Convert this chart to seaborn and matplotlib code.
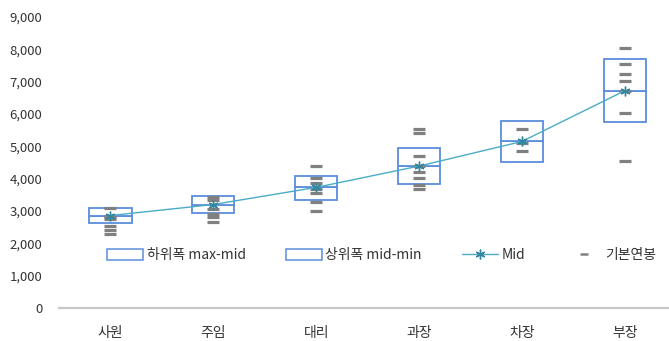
import matplotlib
matplotlib.use("Agg")
import matplotlib.pyplot as plt
from matplotlib.patches import Patch
from matplotlib.lines import Line2D
import seaborn as sns
import pandas as pd

# Grades, band limits and the midpoint of each pay band (unit: 10k KRW)
categories = ["사원", "주임", "대리", "과장", "차장", "부장"]
band_min = [2620, 2940, 3340, 3835, 4510, 5745]
band_mid = [2860, 3200, 3730, 4390, 5150, 6720]
band_max = [3080, 3460, 4090, 4940, 5790, 7710]

# Base salaries observed within each grade
salaries_사원 = [3080, 2860, 2800, 2740, 2540, 2420, 2290]
salaries_주임 = [3430, 3330, 3050, 2920, 2810, 2670]
salaries_대리 = [4380, 4010, 3880, 3680, 3560, 3290, 3010]
salaries_과장 = [5530, 5400, 4700, 4390, 4200, 4020, 3800, 3670]
salaries_차장 = [5530, 5110, 4850]
salaries_부장 = [8030, 7540, 7230, 7010, 6720, 6020, 4540]

y_ticks = [0, 1000, 2000, 3000, 4000, 5000, 6000, 7000, 8000, 9000]

sns.set_theme(style="white")
plt.rcParams["font.family"] = ["Noto Sans CJK KR", "DejaVu Sans"]

text_color = "#333333"
box_color = "#5B8EDB"
line_color = "#4BACC6"
marker_color = "#31859C"
dash_color = "#808080"

salary_df = pd.DataFrame(
    [(g, v) for g, vals in zip(categories, [salaries_사원, salaries_주임, salaries_대리,
                                           salaries_과장, salaries_차장, salaries_부장])
     for v in vals],
    columns=["grade", "salary"],
)
band_df = pd.DataFrame({"grade": categories, "mid": band_mid})

fig = plt.figure(figsize=(6.69, 3.41), dpi=100)
ax = fig.add_axes([59 / 669, 33 / 341, 610 / 669, 291 / 341])

# Pay band boxes: lower part min→mid, upper part mid→max
pos = list(range(len(categories)))
lower_h = [m - lo for lo, m in zip(band_min, band_mid)]
upper_h = [hi - m for m, hi in zip(band_mid, band_max)]
ax.bar(pos, lower_h, bottom=band_min, width=0.41, facecolor="white",
       edgecolor=box_color, linewidth=1.3, zorder=2)
ax.bar(pos, upper_h, bottom=band_mid, width=0.41, facecolor="white",
       edgecolor=box_color, linewidth=1.3, zorder=2)

# Individual base salaries as short horizontal dashes
sns.stripplot(data=salary_df, x="grade", y="salary", order=categories,
              jitter=False, marker="_", size=8, linewidth=2.3,
              color=dash_color, edgecolor=dash_color, ax=ax, zorder=3)

# Midpoint trend line
sns.lineplot(data=band_df, x="grade", y="mid", sort=False, color=line_color,
             linewidth=1.0, marker=(6, 2, 0), markersize=7,
             markeredgecolor=marker_color, markeredgewidth=1.0,
             ax=ax, zorder=4)

ax.set_xlim(-0.5, 5.43)
ax.set_ylim(0, 9000)
ax.set_yticks(y_ticks)
ax.set_yticklabels([f"{v:,}" for v in y_ticks])
ax.set_xticks(pos)
ax.set_xticklabels(categories)
ax.set_xlabel("")
ax.set_ylabel("")
ax.tick_params(axis="both", length=0, labelsize=9.5, colors=text_color)
ax.tick_params(axis="x", labelsize=10, pad=13)
ax.tick_params(axis="y", pad=12)

for side in ["left", "right", "top"]:
    ax.spines[side].set_visible(False)
ax.spines["bottom"].set_color("#C8C8C8")
ax.spines["bottom"].set_linewidth(1.6)

handles = [
    Patch(facecolor="white", edgecolor=box_color, linewidth=1.1),
    Patch(facecolor="white", edgecolor=box_color, linewidth=1.1),
    Line2D([0], [0], color=line_color, linewidth=1.0, marker=(6, 2, 0),
           markersize=7, markeredgecolor=marker_color, markeredgewidth=1.0),
    Line2D([0], [0], color=dash_color, linestyle="none", marker="_",
           markersize=6, markeredgewidth=1.8),
]
labels = ["하위폭 max-mid", "상위폭 mid-min", "Mid", "기본연봉"]
leg = ax.legend(handles, labels, loc="center", bbox_to_anchor=(0.529, 0.182),
                ncol=4, frameon=False, fontsize=10, handlelength=2.6,
                handleheight=0.85, columnspacing=2.9, handletextpad=0.25)
for t in leg.get_texts():
    t.set_color(text_color)

fig.savefig("out.png", dpi=100, facecolor="white")
